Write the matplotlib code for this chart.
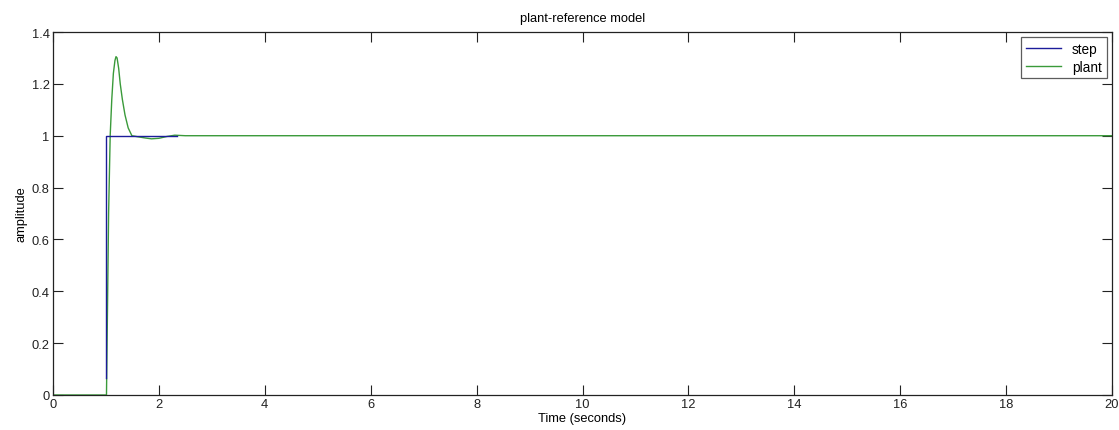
import matplotlib
matplotlib.use("Agg")
import matplotlib.pyplot as plt
from matplotlib.ticker import FixedLocator, FuncFormatter

plt.rcParams['font.family'] = ['Liberation Sans', 'DejaVu Sans']

# Data
plant_t = [0, 1.01, 1.03, 1.05, 1.08, 1.11, 1.14, 1.17, 1.19, 1.21, 1.24, 1.27,
           1.31, 1.36, 1.42, 1.49, 1.6, 1.75, 1.86, 2.0, 2.15, 2.3, 2.5, 20]
plant_y = [0, 0, 0.35, 0.7, 1.0, 1.14, 1.24, 1.29, 1.305, 1.30, 1.26, 1.2,
           1.14, 1.08, 1.03, 1.0, 0.996, 0.991, 0.988, 0.99, 0.997, 1.002, 1.0, 1.0]
step_t = [1.0, 1.0, 2.35]
step_y = [0.065, 1.0, 1.0]

x_ticks = [0, 2, 4, 6, 8, 10, 12, 14, 16, 18, 20]
y_ticks = [0, 0.2, 0.4, 0.6, 0.8, 1.0, 1.2, 1.4]

fs = 9.3

fig = plt.figure(figsize=(11.19, 4.31), dpi=100)
ax = fig.add_axes([53/1119, 1-396/431, (1112-53)/1119, (396-33)/431])

ax.plot(plant_t, plant_y, color='#3a9a3a', lw=1.0, label='plant', zorder=2)
ax.plot(step_t, step_y, color='#1c1c9a', lw=1.0, label='step', zorder=3)

ax.set_xlim(0, 20)
ax.set_ylim(0, 1.4)
ax.xaxis.set_major_locator(FixedLocator(x_ticks))
ax.yaxis.set_major_locator(FixedLocator(y_ticks))
ax.yaxis.set_major_formatter(FuncFormatter(lambda v, p: f"{v:g}"))
ax.xaxis.set_major_formatter(FuncFormatter(lambda v, p: f"{v:g}"))
ax.tick_params(direction='in', length=7.5, width=0.8, top=True, right=True,
               labelsize=fs, colors='#222222', pad=2.5)
for s in ax.spines.values():
    s.set_linewidth(0.9)
    s.set_color('#222222')

ax.set_title('plant-reference model', fontsize=fs, pad=8)
ax.set_xlabel('Time (seconds)', fontsize=fs, labelpad=1)
ax.set_ylabel('amplitude', fontsize=fs, labelpad=3)

h, l = ax.get_legend_handles_labels()
leg = ax.legend([h[1], h[0]], [l[1], l[0]], loc='upper right', fontsize=fs + 0.5,
                frameon=True, fancybox=False, edgecolor='#333333',
                borderaxespad=0.4, handlelength=2.6, borderpad=0.35,
                labelspacing=0.25, handletextpad=0.8)
leg.get_frame().set_linewidth(0.9)

fig.savefig('out.png', dpi=100, facecolor='white')
